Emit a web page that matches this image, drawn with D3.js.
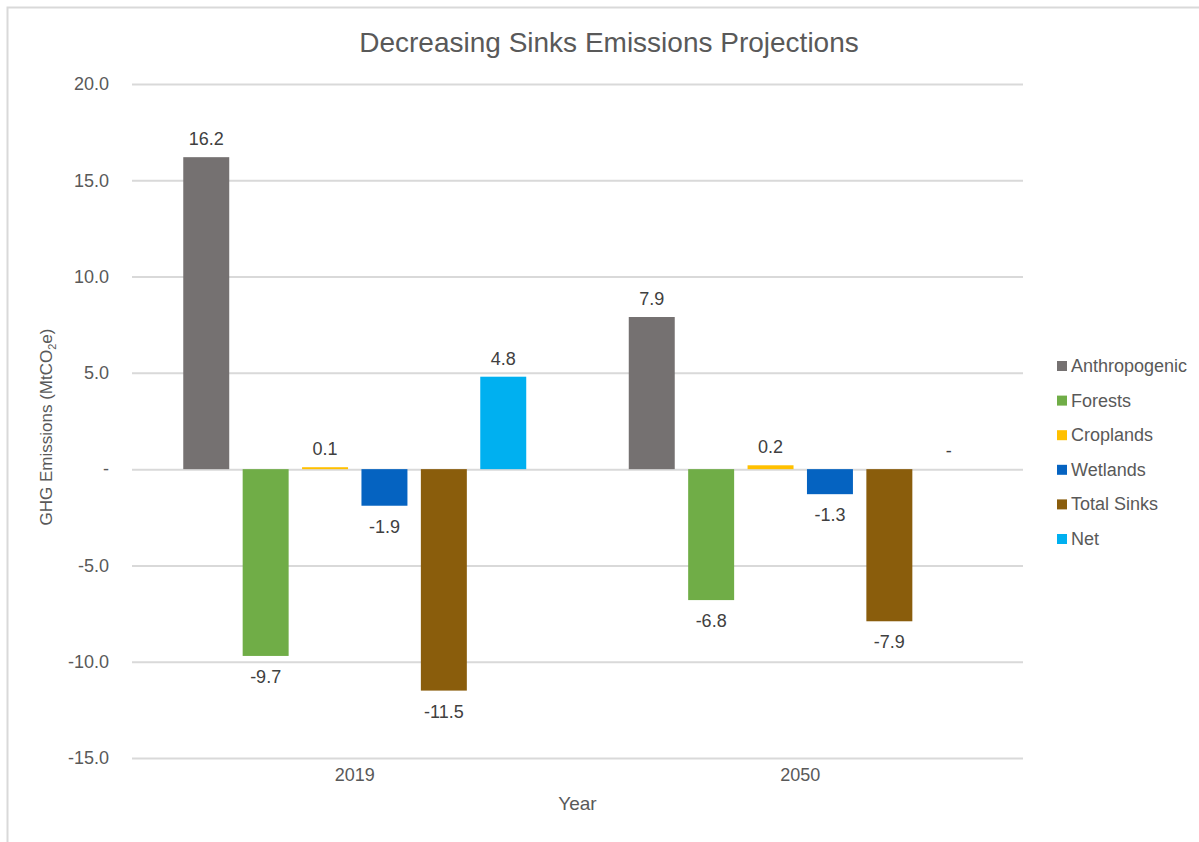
<!DOCTYPE html>
<html>
<head>
<meta charset="utf-8">
<script src="https://cdn.jsdelivr.net/npm/d3@7"></script>
<style>
  body { margin: 0; background: #fff; }
  text { font-family: "Liberation Sans", Arial, sans-serif; }
</style>
</head>
<body>
<svg id="chart" width="1199" height="842"></svg>
<script>
// chart data
var years = ["2019", "2050"];
var seriesNames = ["Anthropogenic", "Forests", "Croplands", "Wetlands", "Total Sinks", "Net"];
var seriesColors = ["#757171", "#70ad47", "#ffc000", "#0563c1", "#8a5d0c", "#00b0f0"];
var values2019 = [16.2, -9.7, 0.1, -1.9, -11.5, 4.8];
var values2050 = [7.9, -6.8, 0.2, -1.3, -7.9, 0];
var yTicks = [-15, -10, -5, 0, 5, 10, 15, 20];

var svg = d3.select("#chart"),
  MARGINS = { top: 84, right: 176, bottom: 84, left: 132 },
  WIDTH = 1199,
  HEIGHT = 842;

var rows = [values2019, values2050];
var data = [];
years.forEach(function(y, i) {
  seriesNames.forEach(function(s, j) {
    data.push({ year: y, series: s, value: rows[i][j], color: seriesColors[j] });
  });
});

// outer chart border (only top/left visible in the shot)
svg.append("rect")
  .attr("x", 7.5).attr("y", 7.5)
  .attr("width", 1300).attr("height", 1000)
  .attr("fill", "none").attr("stroke", "#d9d9d9").attr("stroke-width", 2);

var x0 = d3.scaleBand().domain(years).range([MARGINS.left, WIDTH - MARGINS.right]);
var x1 = d3.scaleBand().domain(seriesNames).range([0, x0.bandwidth()])
  .paddingInner(0.226).paddingOuter(0.863);
var yScale = d3.scaleLinear().domain([-15, 20]).range([HEIGHT - MARGINS.bottom, MARGINS.top]);

// excel accounting style: zero shows as a dash, plain hyphen minus
var fmt = function(d) { return d === 0 ? "-" : d3.format(".1f")(d).replace("\u2212", "-"); };

// gridlines
var yAxis = d3.axisLeft(yScale).tickValues(yTicks).tickFormat(fmt)
  .tickSize(-(WIDTH - MARGINS.left - MARGINS.right)).tickPadding(23);
var gy = svg.append("g")
  .attr("transform", "translate(" + MARGINS.left + ",0)")
  .call(yAxis);
gy.select(".domain").remove();
gy.selectAll(".tick line").attr("stroke", "#d9d9d9").attr("stroke-width", 2);
gy.selectAll(".tick text").attr("fill", "#595959").attr("font-size", 18)
  .attr("font-family", "Liberation Sans, Arial, sans-serif");

// bars
svg.append("g").selectAll("rect")
  .data(data)
  .enter().append("rect")
  .attr("x", function(d) { return x0(d.year) + x1(d.series); })
  .attr("width", x1.bandwidth())
  .attr("y", function(d) { return yScale(Math.max(0, d.value)); })
  .attr("height", function(d) { return Math.abs(yScale(d.value) - yScale(0)); })
  .attr("fill", function(d) { return d.color; });

// data labels
svg.append("g").selectAll("text")
  .data(data)
  .enter().append("text")
  .attr("x", function(d) { return x0(d.year) + x1(d.series) + x1.bandwidth() / 2; })
  .attr("y", function(d) { return d.value < 0 ? yScale(d.value) + 27 : yScale(d.value) - 12; })
  .attr("text-anchor", "middle")
  .attr("font-size", 18)
  .attr("fill", "#404040")
  .text(function(d) { return fmt(d.value); });

// x axis
var xAxis = d3.axisBottom(x0).tickSize(0).tickPadding(10);
var gx = svg.append("g")
  .attr("transform", "translate(0," + (HEIGHT - MARGINS.bottom) + ")")
  .call(xAxis);
gx.select(".domain").remove();
gx.selectAll(".tick text").attr("fill", "#595959").attr("font-size", 18)
  .attr("font-family", "Liberation Sans, Arial, sans-serif");

// titles
svg.append("text")
  .attr("x", 609).attr("y", 52)
  .attr("text-anchor", "middle")
  .attr("font-size", 28)
  .attr("fill", "#595959")
  .text("Decreasing Sinks Emissions Projections");

svg.append("text")
  .attr("x", (MARGINS.left + WIDTH - MARGINS.right) / 2).attr("y", 810)
  .attr("text-anchor", "middle")
  .attr("font-size", 19)
  .attr("fill", "#595959")
  .text("Year");

var yt = svg.append("text")
  .attr("transform", "translate(52,427) rotate(-90)")
  .attr("text-anchor", "middle")
  .attr("font-size", 17)
  .attr("fill", "#595959");
yt.append("tspan").text("GHG Emissions (MtCO");
yt.append("tspan").attr("font-size", 11).attr("dy", 4).text("2");
yt.append("tspan").attr("dy", -4).text("e)");

// legend
var legend = svg.append("g").selectAll("g")
  .data(seriesNames)
  .enter().append("g")
  .attr("transform", function(d, i) { return "translate(1057," + (366 + i * 34.6) + ")"; });
legend.append("rect")
  .attr("x", 0).attr("y", -5).attr("width", 10).attr("height", 10)
  .attr("fill", function(d, i) { return seriesColors[i]; });
legend.append("text")
  .attr("x", 14).attr("y", 6)
  .attr("font-size", 18)
  .attr("fill", "#595959")
  .text(function(d) { return d; });
</script>
</body>
</html>
